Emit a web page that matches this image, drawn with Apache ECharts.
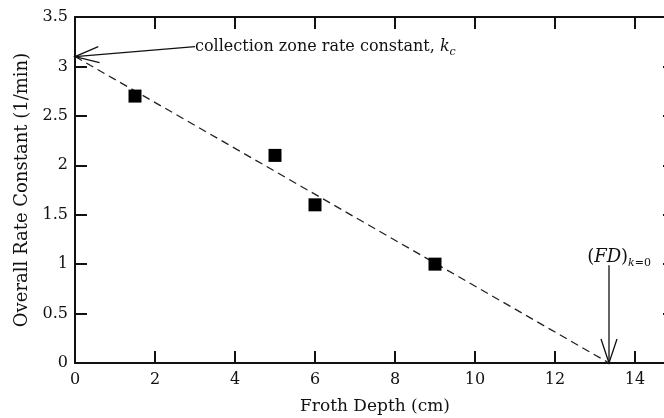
<!DOCTYPE html>
<html>
<head>
<meta charset="utf-8">
<script src="https://cdn.jsdelivr.net/npm/echarts@6/dist/echarts.min.js"></script>
<style>
  html, body { margin: 0; padding: 0; background: #fff; }
  #main { width: 664px; height: 418px; }
</style>
</head>
<body>
<div id="main"></div>
<script>
// measured points
var depth = [1.5, 5, 6, 9];
var rate = [2.7, 2.1, 1.6, 1.0];

// dashed fit line, intercepts
var fitDepth = [0, 13.35];
var fitRate = [3.1, 0];

// annotation arrows: [fromX, fromY, toX, toY]
var arrowKc = [3.0, 3.2, 0, 3.1];
var arrowFd = [13.35, 0.99, 13.35, 0];

var font = 'DejaVu Serif';
var ink = '#111';

var myChart = echarts.init(document.getElementById('main'));

var scatterData = depth.map(function (d, i) { return [d, rate[i]]; });
var fitData = fitDepth.map(function (d, i) { return [d, fitRate[i]]; });

function arrowHead(tip, from, len, half) {
    var dx = from[0] - tip[0], dy = from[1] - tip[1];
    var l = Math.sqrt(dx * dx + dy * dy);
    var ux = dx / l, uy = dy / l;
    var bx = tip[0] + ux * len, by = tip[1] + uy * len;
    return [
        [bx - uy * half, by + ux * half],
        [bx + uy * half, by - ux * half]
    ];
}

var arrowStyle = { stroke: ink, lineWidth: 1.3, fill: null };

function frame(extra) {
    var ax = {
        type: 'value',
        axisLine: { onZero: false, lineStyle: { color: ink, width: 2 } },
        axisTick: { inside: true, length: 12, lineStyle: { color: ink, width: 2 } },
        axisLabel: { show: false },
        splitLine: { show: false }
    };
    return Object.assign(ax, extra);
}

var option = {
    animation: false,
    backgroundColor: '#fff',
    grid: { left: 75, top: 17, width: 600, height: 346, outerBoundsMode: 'none', containLabel: false },
    xAxis: [
        frame({
            min: 0, max: 15, interval: 2, position: 'bottom',
            name: 'Froth Depth (cm)', nameLocation: 'middle', nameGap: 35,
            nameTextStyle: { fontFamily: font, fontSize: 17, color: ink },
            axisLabel: { fontFamily: font, fontSize: 16, color: ink, margin: 9 }
        }),
        frame({ min: 0, max: 15, interval: 2, position: 'top' })
    ],
    yAxis: [
        frame({
            min: 0, max: 3.5, interval: 0.5, position: 'left',
            name: 'Overall Rate Constant (1/min)', nameLocation: 'middle', nameGap: 42,
            nameTextStyle: { fontFamily: font, fontSize: 18, color: ink },
            axisLabel: { fontFamily: font, fontSize: 16, color: ink, margin: 7 }
        }),
        frame({ min: 0, max: 3.5, interval: 0.5, position: 'right' })
    ],
    series: [
        {
            type: 'line',
            data: fitData,
            showSymbol: false,
            lineStyle: { color: '#222', width: 1.3, type: [8, 5] },
            z: 2
        },
        {
            type: 'scatter',
            data: scatterData,
            symbol: 'rect',
            symbolSize: 13,
            itemStyle: { color: '#000', opacity: 1 },
            z: 3
        },
        {
            type: 'custom',
            data: [arrowKc, arrowFd],
            renderItem: function (params, api) {
                var from = api.coord([api.value(0), api.value(1)]);
                var tip = api.coord([api.value(2), api.value(3)]);
                var head = arrowHead(tip, from, 24, 8);
                var children = [
                    { type: 'line', shape: { x1: from[0], y1: from[1], x2: tip[0], y2: tip[1] }, style: arrowStyle },
                    { type: 'polyline', shape: { points: [head[0], tip, head[1]] }, style: arrowStyle }
                ];
                if (params.dataIndex === 0) {
                    children.push({
                        type: 'text',
                        x: from[0], y: from[1],
                        style: {
                            text: '{a|collection zone rate constant, }{k|k}{s|c}',
                            align: 'left', verticalAlign: 'middle',
                            rich: {
                                a: { fontFamily: font, fontSize: 16, fill: ink },
                                k: { fontFamily: font, fontSize: 16, fontStyle: 'italic', fill: ink },
                                s: { fontFamily: font, fontSize: 11, fontStyle: 'italic', fill: ink, padding: [10, 0, 0, 0] }
                            }
                        }
                    });
                } else {
                    children.push({
                        type: 'text',
                        x: from[0] + 42, y: from[1] - 8,
                        style: {
                            text: '{a|(}{b|FD}{a|)}{s|k}{t|=0}',
                            align: 'right', verticalAlign: 'middle',
                            rich: {
                                a: { fontFamily: font, fontSize: 18, fill: ink },
                                b: { fontFamily: font, fontSize: 18, fontStyle: 'italic', fill: ink },
                                s: { fontFamily: font, fontSize: 11, fontStyle: 'italic', fill: ink, padding: [12, 0, 0, 0] },
                                t: { fontFamily: font, fontSize: 11, fill: ink, padding: [12, 0, 0, 0] }
                            }
                        }
                    });
                }
                return { type: 'group', children: children };
            },
            z: 4
        }
    ]
};

myChart.setOption(option);
</script>
</body>
</html>
